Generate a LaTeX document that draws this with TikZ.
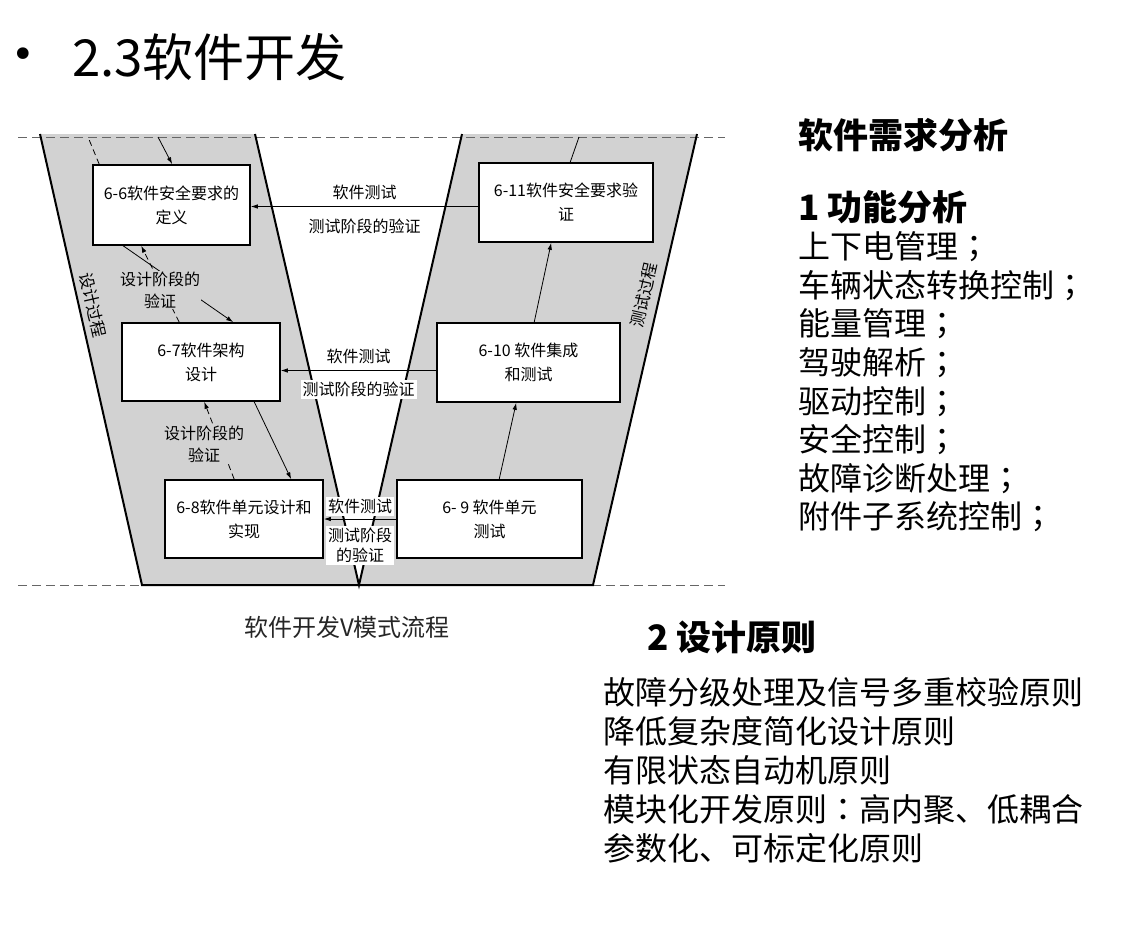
\documentclass[tikz,border=0pt]{standalone}
\usepackage{fontspec}
\setmainfont{Noto Sans CJK SC}
\newfontfamily\tcfont{Noto Sans CJK TC}
\newfontfamily\symfont{DejaVu Sans}
\newcommand{\semi}{{\tcfont ；}}
\usetikzlibrary{arrows.meta,positioning}

\begin{document}
\begin{tikzpicture}[x=1pt,y=-1pt]
    \tikzstyle{every node} = [font=\fontsize{16}{24}\selectfont]
    \tikzstyle{block} = [draw, rectangle, fill=white, line width=1.6pt, align=center, inner sep=0pt]
    \tikzstyle{arr} = [-{Latex[length=7pt,width=4.5pt]}, line width=0.8pt]
    \tikzstyle{verify} = [arr, dash pattern=on 6pt off 4pt]
    \tikzstyle{edge} = [line width=2pt, line join=miter]
    \tikzstyle{guide} = [dash pattern=on 9pt off 5pt, gray!80!black, line width=1pt]
    \tikzstyle{note} = [font=\fontsize{16}{22}\selectfont, align=center, fill=gray!35, inner sep=1pt]
    \tikzstyle{head} = [font=\fontsize{35}{40}\selectfont\bfseries, anchor=west, inner sep=0pt]
    \tikzstyle{list} = [font=\fontsize{32}{38.6}\selectfont, align=left, anchor=west, inner sep=0pt]
    \useasboundingbox (0,0) rectangle (1143,930);
    \fill[white] (0,0) rectangle (1143,930);

    % V band
    \fill[gray!35] (40,134) -- (255,134) -- (359,585) -- (462,134) -- (697,134) -- (593,585) -- (142,585) -- cycle;
    \draw[guide] (18,137) -- (725,137);
    \draw[guide] (18,585) -- (725,585);
    \draw[edge] (40,134) -- (142,585) -- (593,585) -- (697,134);
    \draw[edge] (255,134) -- (359,585) -- (462,134);
    \node[rotate=-77, font=\fontsize{16.5}{17}\selectfont, inner sep=0pt] (designLabel) at (93,305) {设计过程};
    \node[rotate=77, font=\fontsize{16.5}{17}\selectfont, inner sep=0pt] (testLabel) at (644,295) {测试过程};

    % place nodes
    \node[block, minimum width=157pt, minimum height=80pt] (safetyReq) at (171.5,205) {6-6软件安全要求的\\定义};
    \node[block, minimum width=158pt, minimum height=78pt] (archDesign) at (201,362) {6-7软件架构\\设计};
    \node[block, minimum width=158pt, minimum height=78pt] (unitDesign) at (244,519) {6-8软件单元设计和\\实现};
    \node[block, minimum width=174pt, minimum height=79pt] (safetyVerify) at (566,202.5) {6-11软件安全要求验\\证};
    \node[block, minimum width=183pt, minimum height=79pt] (integTest) at (528.5,362.5) {6-10 软件集成\\和测试};
    \node[block, minimum width=185pt, minimum height=78pt] (unitTest) at (489.5,519) {6- 9 软件单元\\测试};
    \coordinate (reqIn) at (158,137);
    \coordinate (reqUp) at (88,137);
    \coordinate (verifyOut) at (579,137);
    \coordinate (topTest) at ([yshift=-4pt]safetyVerify.west);
    \coordinate (midTest) at ([yshift=-8pt]integTest.west);

    % Connections
    \draw[arr] (reqIn) -- ([xshift=80pt]safetyReq.north west);
    \draw[verify, -] ([xshift=7pt]safetyReq.north west) -- (reqUp);
    \draw[arr] ([xshift=31pt]safetyReq.south west) -- ([xshift=112pt]archDesign.north west);
    \draw[verify] ([xshift=58pt]archDesign.north west) -- node[note, midway, yshift=-6pt]{设计阶段的\\验证} ([xshift=49pt]safetyReq.south west);
    \draw[arr] ([xshift=133pt]archDesign.south west) -- ([xshift=127pt]unitDesign.north west);
    \draw[verify] ([xshift=70pt]unitDesign.north west) -- node[note, midway, xshift=-15pt, yshift=-4pt]{设计阶段的\\验证} ([xshift=83pt]archDesign.south west);

    \draw[arr] ([xshift=103pt]unitTest.north west) -- ([xshift=80pt]integTest.south west);
    \draw[arr] ([xshift=98pt]integTest.north west) -- ([xshift=73pt]safetyVerify.south west);
    \draw[line width=0.8pt] ([xshift=92pt]safetyVerify.north west) -- (verifyOut);

    \draw[arr] (topTest) -- (topTest -| safetyReq.east)
        node[midway, above=3pt]{软件测试} node[midway, below=9pt]{测试阶段的验证};
    \draw[arr] (midTest) -- (midTest -| archDesign.east)
        node[midway, above=3pt]{软件测试} node[midway, below=9pt, fill=white, inner sep=2pt]{测试阶段的验证};
    \draw[arr] (unitTest.west) -- (unitDesign.east)
        node[midway, above=3pt, fill=white, inner sep=2pt]{软件测试}
        node[midway, below=7pt, fill=white, inner sep=2pt, align=center, font=\fontsize{16}{20}\selectfont]{测试阶段\\的验证};

    \node[font=\fontsize{24}{28}\selectfont, text=black!85] (caption) at (347,627) {软件开发V模式流程};

    % title and notes
    \node[font=\symfont\fontsize{40}{40}\selectfont, inner sep=0pt] (bullet) at (23,58) {•};
    \node[font=\fontsize{51}{56}\selectfont, anchor=west, inner sep=0pt] (title) at (72,57) {2.3软件开发};
    \node[head] (reqHead) at (798,135) {软件需求分析};
    \node[head] (funcHead) at (798,207) {1 功能分析};
    \node[list] (funcList) at (798,382) {上下电管理\semi\\车辆状态转换控制\semi\\能量管理\semi\\驾驶解析\semi\\驱动控制\semi\\安全控制\semi\\故障诊断处理\semi\\附件子系统控制\semi};
    \node[head] (ruleHead) at (647,637) {2 设计原则};
    \node[list, font=\fontsize{32}{39}\selectfont] (ruleList) at (603,770) {故障分级处理及信号多重校验原则\\降低复杂度简化设计原则\\有限状态自动机原则\\模块化开发原则{\tcfont ：}高内聚、低耦合\\参数化、可标定化原则};
\end{tikzpicture}
\end{document}
